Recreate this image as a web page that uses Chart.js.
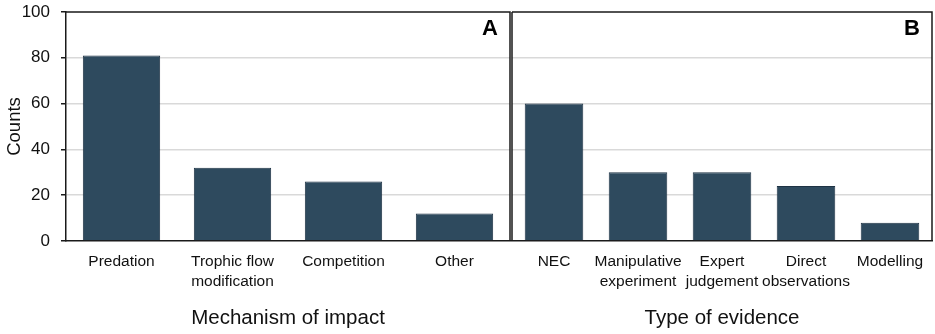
<!DOCTYPE html>
<html>
<head>
<meta charset="utf-8">
<script src="https://cdn.jsdelivr.net/npm/chart.js@4.4.1/dist/chart.umd.min.js"></script>
<style>
  html, body { margin: 0; padding: 0; background: #fff; }
  #wrap { position: relative; width: 935px; height: 334px; }
  #boxA { position: absolute; left: 0; top: 0; width: 512px; height: 334px; }
  #boxB { position: absolute; left: 508px; top: 0; width: 427px; height: 334px; }
</style>
</head>
<body>
<div id="wrap">
  <div id="boxA"><canvas id="chartA"></canvas></div>
  <div id="boxB"><canvas id="chartB"></canvas></div>
</div>
<script>
// panel A - mechanism of impact
const mechanismLabels = ['Predation', ['Trophic flow', 'modification'], 'Competition', 'Other'];
const mechanismCounts = [81, 32, 26, 12];

// panel B - type of evidence
const evidenceLabels = ['NEC', ['Manipulative', 'experiment'], ['Expert', 'judgement'], ['Direct', 'observations'], 'Modelling'];
const evidenceCounts = [60, 30, 30, 24, 8];

const yTicks = [0, 20, 40, 60, 80, 100];

const barColor = '#2e4a5e';
const fontFamily = '"Liberation Sans", Arial, sans-serif';

// draws the frame lines and the panel letter
function framePlugin(letter, leftLine) {
    return {
        id: 'frame' + letter,
        afterDraw(chart) {
            const a = chart.chartArea;
            const ctx = chart.ctx;
            ctx.save();
            ctx.strokeStyle = '#1a1a1a';
            ctx.lineWidth = 1.5;
            ctx.beginPath();
            ctx.moveTo(a.left, a.top);
            ctx.lineTo(a.right, a.top);
            ctx.lineTo(a.right, a.bottom);
            if (leftLine) {
                ctx.moveTo(a.left, a.top);
                ctx.lineTo(a.left, a.bottom);
            }
            ctx.stroke();
            ctx.fillStyle = '#000';
            ctx.font = 'bold 22px ' + fontFamily;
            ctx.textAlign = 'right';
            ctx.textBaseline = 'middle';
            ctx.fillText(letter, a.right - 12, a.top + 17);
            ctx.restore();
        }
    };
}

function makeChart(id, labels, values, title, isFirst, letter) {
    const ctx = document.getElementById(id).getContext('2d');
    return new Chart(ctx, {
        type: 'bar',
        data: {
            labels: labels,
            datasets: [{
                data: values,
                backgroundColor: barColor,
                borderColor: '#1e3344',
                borderWidth: 1,
                barPercentage: 0.82,
                categoryPercentage: 0.85
            }]
        },
        options: {
            responsive: true,
            maintainAspectRatio: false,
            animation: false,
            layout: {
                padding: { left: isFirst ? 0 : 4, right: isFirst ? 2 : 3, top: 12, bottom: 0 }
            },
            plugins: {
                legend: { display: false },
                tooltip: { enabled: false }
            },
            scales: {
                x: {
                    grid: { display: false },
                    border: { display: true, color: '#1a1a1a', width: 1.5 },
                    ticks: {
                        color: '#111',
                        padding: 3,
                        maxRotation: 0,
                        autoSkip: false,
                        font: { family: fontFamily, size: 15.5, lineHeight: 1.28 }
                    },
                    title: {
                        display: true,
                        text: title,
                        color: '#111',
                        padding: { top: 4, bottom: 3 },
                        font: { family: fontFamily, size: 20.5 }
                    },
                    afterFit: scale => {
                        scale.height = 93;
                        scale.paddingLeft = 0;
                        scale.paddingRight = 0;
                    }
                },
                y: {
                    min: 0,
                    max: 100,
                    afterBuildTicks: scale => {
                        scale.ticks = yTicks.map(v => ({ value: v }));
                    },
                    grid: {
                        color: ctx => (ctx.tick.value === 0 || ctx.tick.value === 100) ? 'rgba(0,0,0,0)' : '#d9d9d9',
                        lineWidth: 1.5,
                        drawTicks: isFirst,
                        tickLength: 5,
                        tickColor: '#1a1a1a'
                    },
                    border: { display: isFirst, color: '#1a1a1a', width: 1.5 },
                    ticks: {
                        display: isFirst,
                        color: '#111',
                        padding: 11,
                        font: { family: fontFamily, size: 17 }
                    },
                    title: {
                        display: isFirst,
                        text: 'Counts',
                        color: '#111',
                        padding: { top: 4, bottom: 0 },
                        font: { family: fontFamily, size: 18.5 }
                    },
                    afterFit: scale => {
                        scale.width = isFirst ? 66 : 0;
                        scale.paddingTop = 0;
                        scale.paddingBottom = 0;
                    }
                }
            }
        },
        plugins: [framePlugin(letter, !isFirst)]
    });
}

makeChart('chartA', mechanismLabels, mechanismCounts, 'Mechanism of impact', true, 'A');
makeChart('chartB', evidenceLabels, evidenceCounts, 'Type of evidence', false, 'B');
</script>
</body>
</html>
